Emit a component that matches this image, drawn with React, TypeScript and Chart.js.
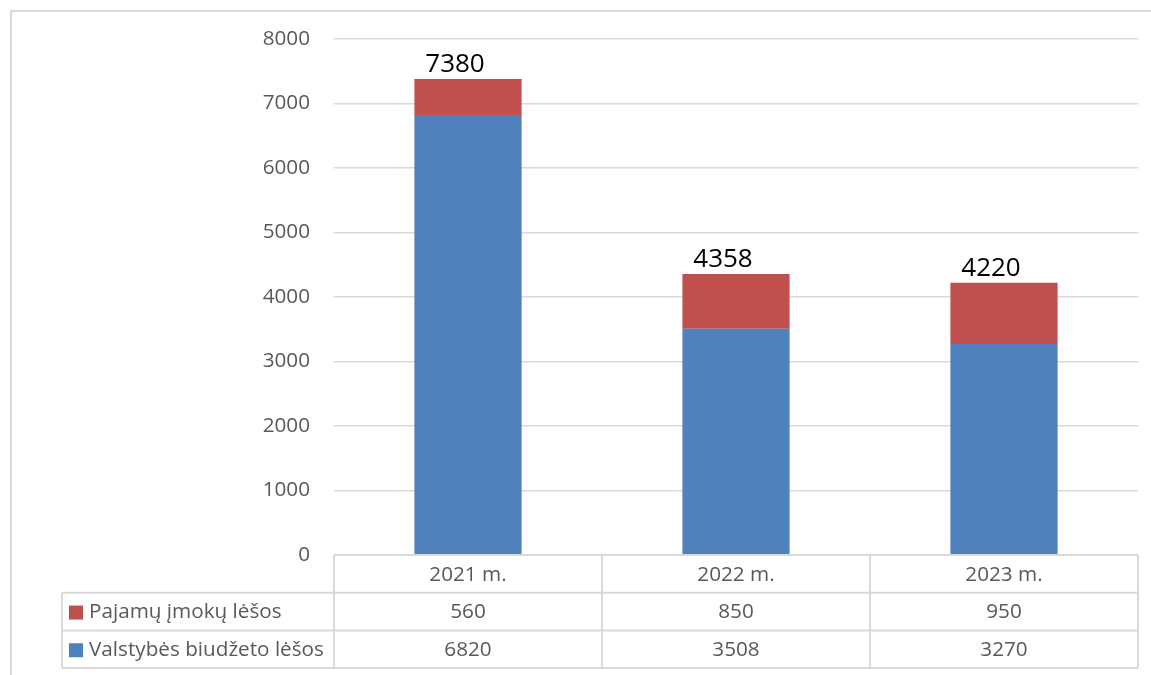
import React, { useEffect, useRef } from "react";
import { Chart, registerables } from "chart.js";

Chart.register(...registerables);

const categories = ["2021 m.", "2022 m.", "2023 m."];
const seriesRedLabel = "Pajamų įmokų lėšos";
const seriesBlueLabel = "Valstybės biudžeto lėšos";
const pajamuImoku = [560, 850, 950];
const valstybesBiudzeto = [6820, 3508, 3270];
const yMin = 0;
const yMax = 8000;
const yStep = 1000;

const RED = "#C0504D";
const BLUE = "#4F81BD";
const GRID = "#D9D9D9";
const TXT = "#595959";
const FONT = "'Open Sans', 'Noto Sans', sans-serif";

const framePlugin = {
  id: "frame",
  beforeDraw(chart: any) {
    const ctx = chart.ctx;
    ctx.save();
    ctx.strokeStyle = GRID;
    ctx.lineWidth = 2;
    ctx.beginPath();
    ctx.moveTo(11, chart.height);
    ctx.lineTo(11, 11);
    ctx.lineTo(chart.width, 11);
    ctx.stroke();
    ctx.restore();
  },
};

const totalsPlugin = {
  id: "totals",
  afterDatasetsDraw(chart: any) {
    const ctx = chart.ctx;
    const topMeta = chart.getDatasetMeta(1);
    ctx.save();
    ctx.font = `26px ${FONT}`;
    ctx.fillStyle = "#000000";
    ctx.textAlign = "center";
    ctx.textBaseline = "alphabetic";
    categories.forEach((_, i) => {
      const el = topMeta.data[i];
      const total = pajamuImoku[i] + valstybesBiudzeto[i];
      ctx.fillText(String(total), el.x - 13, el.y - 7);
    });
    ctx.restore();
  },
};

const tablePlugin = {
  id: "dataTable",
  afterDraw(chart: any) {
    const ctx = chart.ctx;
    const area = chart.chartArea;
    const xs = chart.scales.x;
    const n = categories.length;
    const colW = (area.right - area.left) / n;
    const top = area.bottom;
    const rowH = 37.7;
    const legendLeft = 62;
    const rows = [top, top + rowH, top + 2 * rowH, top + 3 * rowH];
    ctx.save();
    ctx.strokeStyle = GRID;
    ctx.lineWidth = 2;
    ctx.beginPath();
    ctx.moveTo(area.left, rows[0]);
    ctx.lineTo(area.right, rows[0]);
    for (let r = 1; r < 4; r++) {
      ctx.moveTo(legendLeft, rows[r]);
      ctx.lineTo(area.right, rows[r]);
    }
    for (let c = 0; c <= n; c++) {
      const x = area.left + c * colW;
      ctx.moveTo(x, rows[0]);
      ctx.lineTo(x, rows[3]);
    }
    ctx.moveTo(legendLeft, rows[1]);
    ctx.lineTo(legendLeft, rows[3]);
    ctx.stroke();

    ctx.font = `20.7px ${FONT}`;
    ctx.fillStyle = TXT;
    ctx.textAlign = "center";
    ctx.textBaseline = "middle";
    categories.forEach((cat, i) => {
      const cx = xs.getPixelForValue(i);
      ctx.fillText(cat, cx, (rows[0] + rows[1]) / 2 + 1);
      ctx.fillText(String(pajamuImoku[i]), cx, (rows[1] + rows[2]) / 2 + 1);
      ctx.fillText(String(valstybesBiudzeto[i]), cx, (rows[2] + rows[3]) / 2 + 1);
    });

    const legendRows = [
      { label: seriesRedLabel, color: RED, y: (rows[1] + rows[2]) / 2 },
      { label: seriesBlueLabel, color: BLUE, y: (rows[2] + rows[3]) / 2 },
    ];
    ctx.textAlign = "left";
    legendRows.forEach((lr) => {
      ctx.fillStyle = lr.color;
      ctx.fillRect(69, lr.y - 6, 14, 14);
      ctx.fillStyle = TXT;
      ctx.fillText(lr.label, 89, lr.y + 1);
    });
    ctx.restore();
  },
};

export default function App() {
  const ref = useRef<HTMLCanvasElement | null>(null);

  useEffect(() => {
    if (!ref.current) return;
    const chart = new Chart(ref.current, {
      type: "bar",
      data: {
        labels: categories,
        datasets: [
          {
            label: seriesBlueLabel,
            data: valstybesBiudzeto,
            backgroundColor: BLUE,
            borderWidth: 0,
            barPercentage: 0.4,
            categoryPercentage: 1,
          },
          {
            label: seriesRedLabel,
            data: pajamuImoku,
            backgroundColor: RED,
            borderWidth: 0,
            barPercentage: 0.4,
            categoryPercentage: 1,
          },
        ],
      },
      options: {
        responsive: false,
        animation: false,
        devicePixelRatio: 1,
        layout: { padding: { top: 39, right: 13, left: 0, bottom: 0 } },
        plugins: {
          legend: { display: false },
          tooltip: { enabled: false },
          title: { display: false },
        },
        scales: {
          x: {
            stacked: true,
            grid: { display: false },
            border: { display: false },
            ticks: { display: false },
            afterFit(scale: any) {
              scale.height = 120;
            },
          },
          y: {
            stacked: true,
            min: yMin,
            max: yMax,
            grid: { color: GRID, lineWidth: 1.5, drawTicks: false },
            border: { display: false },
            ticks: {
              stepSize: yStep,
              color: TXT,
              padding: 24,
              font: { family: FONT, size: 20.7 },
              callback: (value: any) => String(value),
            },
            afterFit(scale: any) {
              scale.width = 334;
            },
          },
        },
      },
      plugins: [framePlugin, totalsPlugin, tablePlugin],
    });
    if ((document as any).fonts) {
      (document as any).fonts.load(`20px 'Open Sans'`).then(() => chart.update());
    }
    return () => chart.destroy();
  }, []);

  return (
    <div style={{ position: "fixed", left: 0, top: 0, width: 1151, height: 675, background: "#fff" }}>
      <canvas ref={ref} width={1151} height={675} style={{ display: "block" }} />
    </div>
  );
}
